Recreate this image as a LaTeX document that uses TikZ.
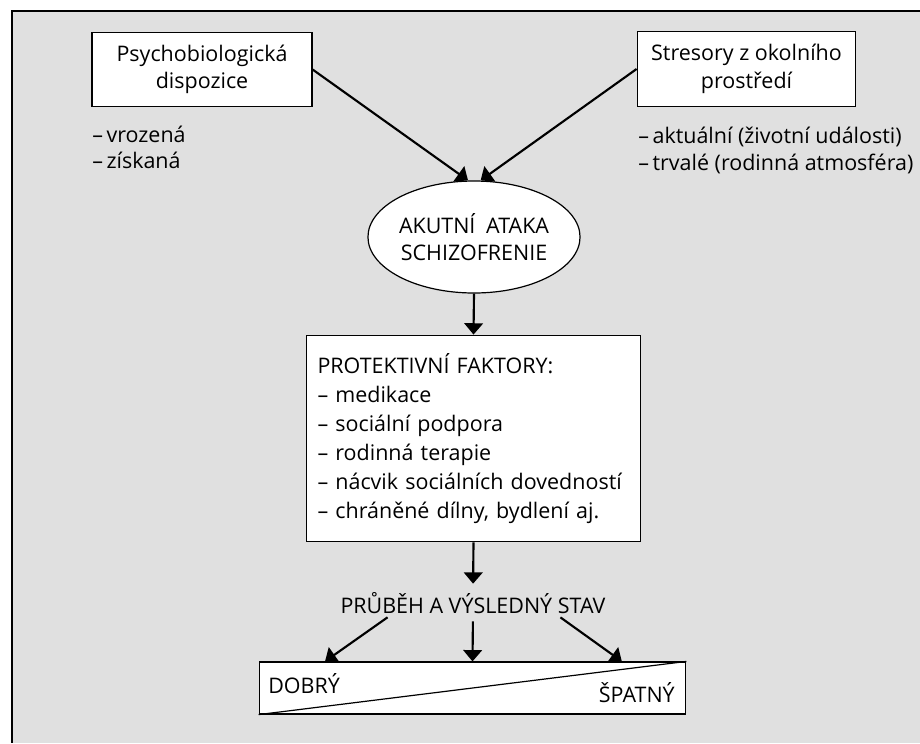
\documentclass[tikz,border=0pt]{standalone}
\usepackage{fontspec}
\setmainfont{Open Sans}
\usetikzlibrary{shapes.geometric,arrows.meta}
\hyphenpenalty=10000

\begin{document}
\begin{tikzpicture}[x=0.75pt,y=-0.75pt,
  box/.style={draw, fill=white, line width=0.9pt, inner sep=0pt, align=center},
  arr/.style={line width=1.6pt, -{Triangle[length=8.5pt,width=14pt]}},
  every node/.style={font=\fontsize{16.1}{20.5}\selectfont}]
% Draw the grey background and the frame
  \useasboundingbox (0,0) rectangle (920,743);
  \fill[black!12] (12,11) rectangle (920,743);
  \draw[line width=1pt] (920,11) -- (12,11) -- (12,743);

% Draw the two causes and their lists
  \node[box, minimum width=165pt, minimum height=56pt] (psych) at (202,69.5) {Psychobiologická\\dispozice};
  \node[anchor=base west, inner sep=0pt] (inborn) at (92,142) {–\,vrozená};
  \node[anchor=base west, inner sep=0pt] (acquired) at (92,168) {–\,získaná};

  \node[box, minimum width=164pt, minimum height=56pt] (stress) at (746.5,69) {Stresory z okolního\\prostředí};
  \node[anchor=base west, inner sep=0pt] (current) at (638,143) {–\,aktuální (životní události)};
  \node[anchor=base west, inner sep=0pt] (lasting) at (638,170) {–\,trvalé (rodinná atmosféra)};

% Draw the acute attack
  \node[box, ellipse, minimum width=159pt, minimum height=84pt] (acute) at (474,237) {AKUTNÍ\enspace ATAKA\\SCHIZOFRENIE};

% Draw the protective factors
  \node[box, minimum width=251pt, minimum height=155pt, text width=234pt, align=left, inner xsep=8.5pt,
    font=\fontsize{16.1}{21.75}\selectfont] (protect) at (473.5,438.5)
    {PROTEKTIVNÍ FAKTORY:\\– medikace\\– sociální podpora\\– rodinná terapie\\– nácvik sociálních dovedností\\– chráněné dílny, bydlení aj.};

% Draw the course and the outcome scale
  \node[anchor=base, inner sep=0pt] (course) at (473,613) {PRŮBĚH A VÝSLEDNÝ STAV};
  \node[box, minimum width=320pt, minimum height=39pt] (scale) at (472.5,688) {};
  \draw[line width=0.9pt] (scale.south west) -- (scale.north east);
  \node[anchor=base west, inner sep=0pt] (good) at (268,693) {DOBRÝ};
  \node[anchor=base east, inner sep=0pt] (bad) at (675,702) {ŠPATNÝ};

% Draw the arrows
  \draw[arr] (psych.east) -- ([xshift=-4.5pt]acute.north);
  \draw[arr] (stress.west) -- ([xshift=5pt]acute.north);
  \draw[arr] (acute.south) -- (protect.north);
  \draw[arr, shorten >=6pt] (protect.south) -- (course.north);
  \draw[arr, shorten <=5pt] ([xshift=-60pt]course.south) -- ([xshift=-110.6pt]scale.north);
  \draw[arr, shorten <=6pt] (course.south) -- (scale.north);
  \draw[arr, shorten <=5pt] ([xshift=61.5pt]course.south) -- ([xshift=112pt]scale.north);
\end{tikzpicture}
\end{document}
